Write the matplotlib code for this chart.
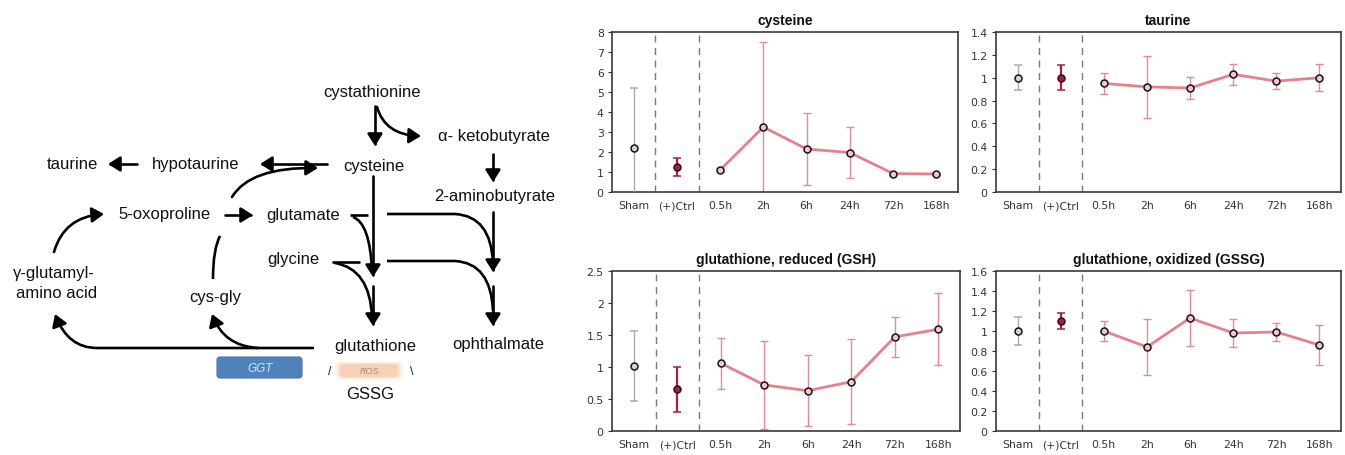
import matplotlib
matplotlib.use('Agg')
import matplotlib.pyplot as plt
from matplotlib.path import Path
from matplotlib.patches import FancyArrowPatch, PathPatch, FancyBboxPatch
from matplotlib.ticker import MultipleLocator, FuncFormatter

# ---------------- data ----------------
categories = ['Sham', '(+)Ctrl', '0.5h', '2h', '6h', '24h', '72h', '168h']

cysteine_mean = [2.2, 1.25, 1.1, 3.25, 2.15, 1.97, 0.92, 0.9]
cysteine_err = [3.0, 0.45, 0.08, 4.25, 1.82, 1.27, 0.05, 0.05]

taurine_mean = [1.0, 1.0, 0.95, 0.92, 0.91, 1.03, 0.97, 1.0]
taurine_err = [0.11, 0.11, 0.09, 0.27, 0.10, 0.09, 0.07, 0.12]

gsh_mean = [1.02, 0.65, 1.06, 0.72, 0.63, 0.77, 1.47, 1.59]
gsh_err = [0.55, 0.35, 0.40, 0.69, 0.55, 0.66, 0.31, 0.56]

gssg_mean = [1.0, 1.1, 1.0, 0.84, 1.13, 0.98, 0.99, 0.86]
gssg_err = [0.14, 0.08, 0.10, 0.28, 0.28, 0.14, 0.09, 0.20]

titles = ['cysteine', 'taurine', 'glutathione, reduced (GSH)', 'glutathione, oxidized (GSSG)']
ymax = [8, 1.4, 2.5, 1.6]
ystep = [1, 0.2, 0.5, 0.2]

W, H = 1345, 456
fig = plt.figure(figsize=(W / 100, H / 100), dpi=100)
fig.patch.set_facecolor('white')

# ---------------- pathway diagram ----------------
axd = fig.add_axes([0, 0, 1, 1])
axd.set_xlim(0, W)
axd.set_ylim(H, 0)
axd.axis('off')
axd.patch.set_visible(False)

dfont = dict(family=['Liberation Sans', 'DejaVu Sans'], fontsize=12, color='#111111',
             ha='center', va='center')
labels = [
    ('cystathionine', 372, 92),
    ('α- ketobutyrate', 494, 137),
    ('cysteine', 374, 167),
    ('2-aminobutyrate', 495, 197),
    ('taurine', 72, 165),
    ('hypotaurine', 196, 165),
    ('5-oxoproline', 164, 215),
    ('glutamate', 303, 216),
    ('glycine', 293, 260),
    ('γ-glutamyl-', 54, 274),
    ('amino acid', 57, 294),
    ('cys-gly', 215, 298),
    ('glutathione', 375, 347),
    ('ophthalmate', 498, 345),
    ('GSSG', 370, 395),
]
for t, x, y in labels:
    axd.text(x, y, t, **dfont)

M, L, C3 = Path.MOVETO, Path.LINETO, Path.CURVE3
LW = 1.9


def draw(verts, codes, head=True):
    path = Path(verts, codes)
    if head:
        p = FancyArrowPatch(path=path, arrowstyle='-|>,head_length=0.6,head_width=0.38',
                            mutation_scale=12, lw=LW, color='black', zorder=3)
    else:
        p = PathPatch(path, fill=False, lw=LW, ec='black', capstyle='butt', zorder=3)
    axd.add_patch(p)


# straight arrows
for (x0, y0, x1, y1) in [(375, 107, 375, 147), (493, 155, 493, 183), (493, 213, 493, 273),
                         (493, 287, 493, 327), (373, 177, 373, 278), (373, 287, 373, 327),
                         (327, 165, 260, 165), (137, 165, 108, 165), (225, 216, 253, 216)]:
    draw([(x0, y0), (x1, y1)], [M, L])
# curved arrows
draw([(377, 108), (385, 136), (421, 137)], [M, C3, C3])
draw([(232, 198), (250, 168), (318, 169)], [M, C3, C3])
draw([(54, 253), (64, 218), (104, 215)], [M, C3, C3])
draw([(313, 349), (97, 349), (68, 349), (55, 315)], [M, L, C3, C3])
draw([(258, 349), (224, 347), (212, 315)], [M, C3, C3])
# plain lines
draw([(350, 216), (368, 216)], [M, L], head=False)
draw([(353, 218), (370, 224), (372, 272)], [M, C3, C3], head=False)
draw([(332, 263), (360, 263)], [M, L], head=False)
draw([(335, 264), (370, 270), (372, 318)], [M, C3, C3], head=False)
draw([(387, 215), (455, 215), (491, 217), (493, 264)], [M, L, C3, C3], head=False)
draw([(387, 262), (455, 262), (491, 264), (493, 312)], [M, L, C3, C3], head=False)
draw([(213, 280), (213, 250), (220, 237)], [M, C3, C3], head=False)

# GGT box
axd.add_patch(FancyBboxPatch((217, 358), 85, 21, boxstyle='round,pad=0,rounding_size=3',
                             fc='#4f81bd', ec='#4a78b0', lw=0.8, zorder=2))
axd.text(260, 369, 'GGT', family=['Liberation Sans', 'DejaVu Sans'], fontsize=8.5,
         style='italic', color='#dce6f2', ha='center', va='center', zorder=4)
# ROS glow
for i, a in enumerate([0.10, 0.16, 0.24, 0.32]):
    g = 7 - 1.8 * i
    axd.add_patch(FancyBboxPatch((342 - g, 366 - g / 2), 54 + 2 * g, 11 + g,
                                 boxstyle='round,pad=0,rounding_size=4',
                                 fc='#f5b58a', ec='none', alpha=a, zorder=2))
axd.text(369, 372, 'ROS', family=['Liberation Sans', 'DejaVu Sans'], fontsize=6.5,
         style='italic', color='#b08a78', ha='center', va='center', zorder=4)
axd.text(330, 372, '/', family=['Liberation Sans', 'DejaVu Sans'], fontsize=9,
         color='#222222', ha='center', va='center')
axd.text(412, 372, '\\', family=['Liberation Sans', 'DejaVu Sans'], fontsize=9,
         color='#222222', ha='center', va='center')

# ---------------- charts ----------------
boxes = [(612, 958, 33, 193), (996, 1341, 33, 193), (612, 960, 272, 432), (996, 1341, 272, 432)]
means = [cysteine_mean, taurine_mean, gsh_mean, gssg_mean]
errs = [cysteine_err, taurine_err, gsh_err, gssg_err]

LINE_C = '#e8808a'
ERR_C = '#e48a98'
SHAM_C = '#a9a9a9'
CTRL_C = '#a3203f'

fmt = FuncFormatter(lambda v, p: ('%g' % round(v, 2)))
xs = list(range(len(categories)))

for k in range(4):
    l, r, t, b = boxes[k]
    ax = fig.add_axes([l / W, 1 - b / H, (r - l) / W, (b - t) / H])
    ax.set_zorder(5)
    m, e = means[k], errs[k]
    # Sham
    ax.errorbar(xs[0], m[0], yerr=e[0], fmt='o', color=SHAM_C, ecolor=SHAM_C, elinewidth=1,
                capsize=3, capthick=1, ms=5, mfc='#d9d0d3', mec='#151515', mew=1.1, zorder=3)
    # (+)Ctrl
    ax.errorbar(xs[1], m[1], yerr=e[1], fmt='o', color=CTRL_C, ecolor=CTRL_C, elinewidth=1.6,
                capsize=3, capthick=1.4, ms=5, mfc=CTRL_C, mec='#3a0a18', mew=1.1, zorder=3)
    # time course
    ax.plot(xs[2:], m[2:], color=LINE_C, lw=2, zorder=2)
    ax.errorbar(xs[2:], m[2:], yerr=e[2:], fmt='none', ecolor=ERR_C, elinewidth=1,
                capsize=3, capthick=1, zorder=2)
    ax.plot(xs[2:], m[2:], 'o', ms=5, mfc='#f2c6cc', mec='#151515', mew=1.1, zorder=4)
    for xv in (0.5, 1.5):
        ax.axvline(xv, color='#7a7a7a', lw=1, ls=(0, (5, 4)), zorder=1)
    ax.set_xlim(-0.5, 7.5)
    ax.set_ylim(0, ymax[k])
    ax.yaxis.set_major_locator(MultipleLocator(ystep[k]))
    ax.yaxis.set_major_formatter(fmt)
    ax.set_xticks(xs)
    ax.set_xticklabels(categories)
    ax.tick_params(axis='both', labelsize=7.8, colors='#333333', length=3, width=0.8, pad=3)
    ax.tick_params(axis='x', pad=6, length=0)
    for sp in ax.spines.values():
        sp.set_color('#3a3a3a')
        sp.set_linewidth(1.2)
    ax.set_title(titles[k], family=['Liberation Sans', 'DejaVu Sans'], fontweight='bold',
                 fontsize=10, color='#111111', pad=6)

fig.savefig('out.png', dpi=100, facecolor='white')
